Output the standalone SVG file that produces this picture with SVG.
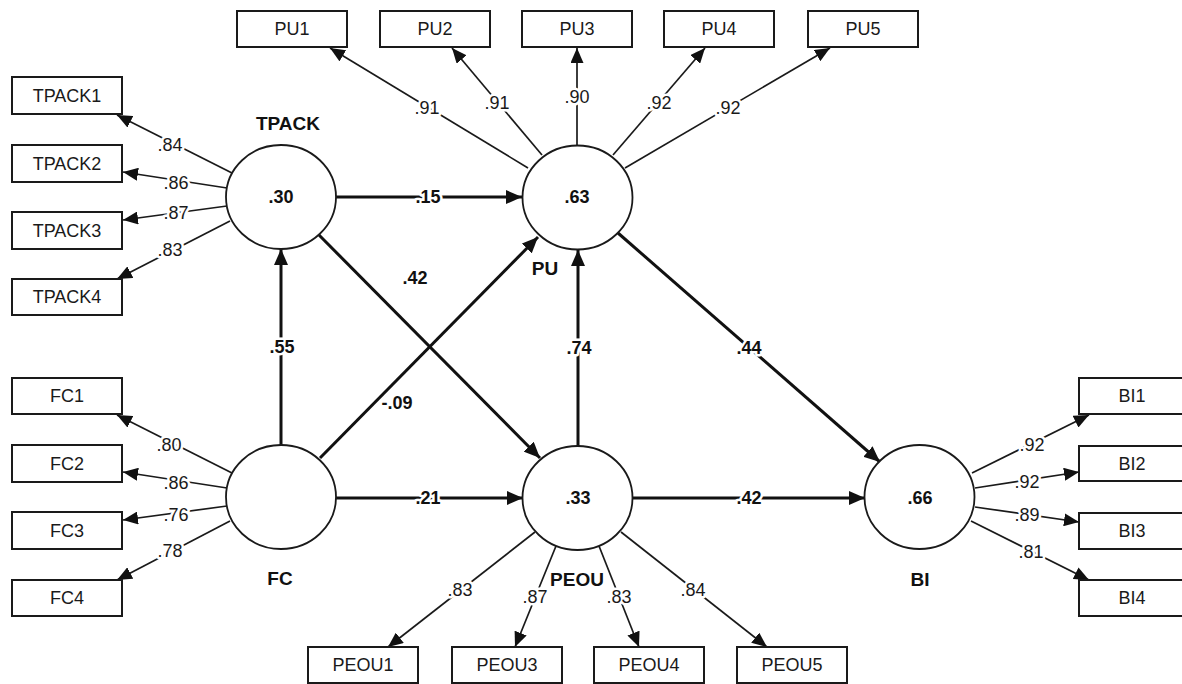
<svg xmlns="http://www.w3.org/2000/svg" width="1182" height="684" viewBox="0 0 1182 684">
<style>
.box{fill:#fff;stroke:#1a1a1a;stroke-width:2}
.lat{fill:#fff;stroke:#1a1a1a;stroke-width:1.8}
.bt{font-family:"Liberation Sans",Arial,sans-serif;font-size:18px;fill:#1a1a1a;text-anchor:middle;dominant-baseline:central}
.val{font-family:"Liberation Sans",Arial,sans-serif;font-size:18px;font-weight:bold;fill:#111;text-anchor:middle;dominant-baseline:central}
.name{font-family:"Liberation Sans",Arial,sans-serif;font-size:19px;font-weight:bold;fill:#111;text-anchor:middle;dominant-baseline:central}
.ld{stroke:#1a1a1a;stroke-width:1.7;fill:none;marker-end:url(#ah)}
.st{stroke:#111;stroke-width:3;fill:none;marker-end:url(#ahb)}
.ll{font-family:"Liberation Sans",Arial,sans-serif;font-size:18px;fill:#1a1a1a;text-anchor:middle;dominant-baseline:central;stroke:#fff;stroke-width:5;paint-order:stroke;stroke-linejoin:round}
.sl{font-family:"Liberation Sans",Arial,sans-serif;font-size:18px;font-weight:bold;fill:#111;text-anchor:middle;dominant-baseline:central;stroke:#fff;stroke-width:5;paint-order:stroke;stroke-linejoin:round}
</style>
<defs>
<marker id="ah" markerUnits="userSpaceOnUse" viewBox="0 0 15 13" refX="15" refY="6.5" markerWidth="15" markerHeight="13" orient="auto"><path d="M0,0 L15,6.5 L0,13 z" fill="#111"/></marker>
<marker id="ahb" markerUnits="userSpaceOnUse" viewBox="0 0 16 14" refX="16" refY="7" markerWidth="16" markerHeight="14" orient="auto"><path d="M0,0 L16,7 L0,14 z" fill="#111"/></marker>
</defs>
<rect width="1182" height="684" fill="#fff"/>

<g id="connectors">
<line class="ld" x1="528" y1="168" x2="330" y2="48"/>
<line class="ld" x1="542" y1="155" x2="452" y2="48"/>
<line class="ld" x1="577" y1="145" x2="577" y2="48"/>
<line class="ld" x1="613" y1="155" x2="705" y2="48"/>
<line class="ld" x1="625" y1="168" x2="830" y2="48"/>
<line class="ld" x1="232" y1="173" x2="117" y2="115"/>
<line class="ld" x1="227" y1="188" x2="123" y2="172"/>
<line class="ld" x1="227" y1="206" x2="123" y2="220"/>
<line class="ld" x1="230" y1="221" x2="117" y2="279"/>
<line class="ld" x1="232" y1="473" x2="117" y2="415"/>
<line class="ld" x1="227" y1="488" x2="123" y2="472"/>
<line class="ld" x1="227" y1="506" x2="123" y2="520"/>
<line class="ld" x1="230" y1="521" x2="117" y2="580"/>
<line class="ld" x1="535" y1="532" x2="388" y2="647"/>
<line class="ld" x1="556" y1="546" x2="515" y2="647"/>
<line class="ld" x1="599" y1="546" x2="639" y2="647"/>
<line class="ld" x1="621" y1="532" x2="767" y2="647"/>
<line class="ld" x1="972" y1="473" x2="1089" y2="415"/>
<line class="ld" x1="975" y1="488" x2="1079" y2="472"/>
<line class="ld" x1="975" y1="507" x2="1079" y2="522"/>
<line class="ld" x1="971" y1="521" x2="1089" y2="580"/>
<line class="st" x1="336" y1="197" x2="522" y2="197"/>
<line class="st" x1="281" y1="446" x2="281" y2="249"/>
<line class="st" x1="318" y1="234" x2="540" y2="458"/>
<line class="st" x1="320" y1="458" x2="538" y2="237"/>
<line class="st" x1="336" y1="498" x2="523" y2="498"/>
<line class="st" x1="578" y1="446" x2="578" y2="250"/>
<line class="st" x1="618" y1="233" x2="880" y2="462"/>
<line class="st" x1="632" y1="498" x2="865" y2="498"/>
</g>

<g id="labels">
<text class="ll" x="427" y="108">.91</text>
<text class="ll" x="497" y="103">.91</text>
<text class="ll" x="577" y="97">.90</text>
<text class="ll" x="659" y="103">.92</text>
<text class="ll" x="728" y="108">.92</text>
<text class="ll" x="170" y="145">.84</text>
<text class="ll" x="176" y="183">.86</text>
<text class="ll" x="176" y="213">.87</text>
<text class="ll" x="170" y="250">.83</text>
<text class="ll" x="169" y="445">.80</text>
<text class="ll" x="176" y="483">.86</text>
<text class="ll" x="176" y="515">.76</text>
<text class="ll" x="170" y="551">.78</text>
<text class="ll" x="460" y="590">.83</text>
<text class="ll" x="535" y="597">.87</text>
<text class="ll" x="619" y="597">.83</text>
<text class="ll" x="693" y="590">.84</text>
<text class="ll" x="1032" y="445">.92</text>
<text class="ll" x="1027" y="482">.92</text>
<text class="ll" x="1027" y="515">.89</text>
<text class="ll" x="1031" y="552">.81</text>
<text class="sl" x="428" y="197">.15</text>
<text class="sl" x="415" y="278">.42</text>
<text class="sl" x="282" y="347">.55</text>
<text class="sl" x="397" y="403">-.09</text>
<text class="sl" x="579" y="348">.74</text>
<text class="sl" x="749" y="348">.44</text>
<text class="sl" x="428" y="498">.21</text>
<text class="sl" x="749" y="498">.42</text>
</g>

<g id="TPACK">
<ellipse class="lat" cx="281" cy="197" rx="55" ry="52"/>
<text class="val" x="281" y="197">.30</text>
<text class="name" x="288" y="123">TPACK</text>
</g>
<g id="PU">
<ellipse class="lat" cx="577.5" cy="197.5" rx="55" ry="52"/>
<text class="val" x="577" y="197">.63</text>
<text class="name" x="545" y="268">PU</text>
</g>
<g id="FC">
<ellipse class="lat" cx="281" cy="497" rx="55" ry="52"/>
<text class="name" x="280" y="578">FC</text>
</g>
<g id="PEOU">
<ellipse class="lat" cx="577.5" cy="498" rx="55" ry="52"/>
<text class="val" x="578" y="498">.33</text>
<text class="sl" style="font-size:19px;stroke-width:3" x="577" y="579">PEOU</text>
</g>
<g id="BI">
<ellipse class="lat" cx="919.5" cy="497" rx="55" ry="52"/>
<text class="val" x="920" y="498">.66</text>
<text class="name" x="920" y="579">BI</text>
</g>

<g id="PU1"><rect class="box" x="237" y="11" width="110" height="36"/><text class="bt" x="292" y="29">PU1</text></g>
<g id="PU2"><rect class="box" x="380" y="11" width="110" height="36"/><text class="bt" x="435" y="29">PU2</text></g>
<g id="PU3"><rect class="box" x="522" y="11" width="110" height="36"/><text class="bt" x="577" y="29">PU3</text></g>
<g id="PU4"><rect class="box" x="664" y="11" width="110" height="36"/><text class="bt" x="719" y="29">PU4</text></g>
<g id="PU5"><rect class="box" x="808" y="11" width="110" height="36"/><text class="bt" x="863" y="29">PU5</text></g>

<g id="TPACK1"><rect class="box" x="12" y="77" width="110" height="37"/><text class="bt" x="67" y="95.5">TPACK1</text></g>
<g id="TPACK2"><rect class="box" x="12" y="145" width="110" height="37"/><text class="bt" x="67" y="163.5">TPACK2</text></g>
<g id="TPACK3"><rect class="box" x="12" y="212" width="110" height="37"/><text class="bt" x="67" y="230.5">TPACK3</text></g>
<g id="TPACK4"><rect class="box" x="12" y="279" width="110" height="36"/><text class="bt" x="67" y="297">TPACK4</text></g>

<g id="FC1"><rect class="box" x="12" y="378" width="110" height="36"/><text class="bt" x="67" y="396">FC1</text></g>
<g id="FC2"><rect class="box" x="12" y="445" width="110" height="37"/><text class="bt" x="67" y="463.5">FC2</text></g>
<g id="FC3"><rect class="box" x="12" y="512" width="110" height="37"/><text class="bt" x="67" y="530.5">FC3</text></g>
<g id="FC4"><rect class="box" x="12" y="580" width="110" height="36"/><text class="bt" x="67" y="598">FC4</text></g>

<g id="PEOU1"><rect class="box" x="308" y="647" width="110" height="36"/><text class="bt" x="363" y="665">PEOU1</text></g>
<g id="PEOU3"><rect class="box" x="452" y="647" width="110" height="36"/><text class="bt" x="507" y="665">PEOU3</text></g>
<g id="PEOU4"><rect class="box" x="594" y="647" width="110" height="36"/><text class="bt" x="649" y="665">PEOU4</text></g>
<g id="PEOU5"><rect class="box" x="737" y="647" width="110" height="36"/><text class="bt" x="792" y="665">PEOU5</text></g>

<g id="BI1"><rect class="box" x="1079" y="378" width="110" height="36"/><text class="bt" x="1132" y="396">BI1</text></g>
<g id="BI2"><rect class="box" x="1079" y="446" width="110" height="35"/><text class="bt" x="1132" y="463.5">BI2</text></g>
<g id="BI3"><rect class="box" x="1079" y="513" width="110" height="36"/><text class="bt" x="1132" y="531">BI3</text></g>
<g id="BI4"><rect class="box" x="1079" y="580" width="110" height="36"/><text class="bt" x="1132" y="598">BI4</text></g>
</svg>
